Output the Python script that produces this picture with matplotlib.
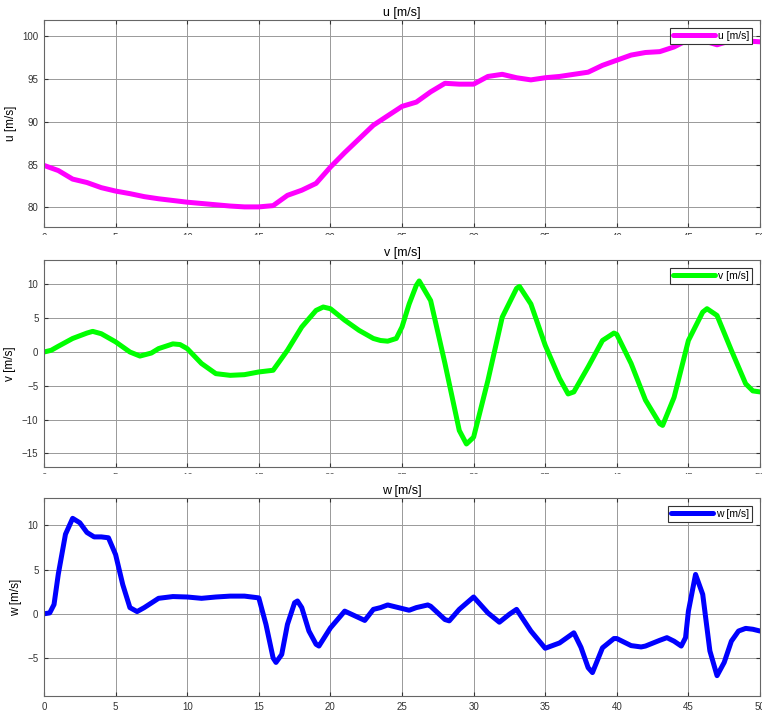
# -*- coding: utf-8 -*-

import matplotlib
matplotlib.use('Agg')
import matplotlib.pyplot as plt
from matplotlib.patches import Rectangle

plt.rcParams['font.family'] = ['Liberation Sans', 'DejaVu Sans']

# ---- u [m/s] ----
t_u = [0, 1, 2, 3, 4, 5, 6, 7, 8, 9, 10, 11, 12, 13, 14, 15, 16, 17, 18, 19,
       20, 21, 22, 23, 24, 25, 26, 27, 28, 29, 30, 31, 32, 33, 34, 35, 36, 37,
       38, 39, 40, 41, 42, 43, 44, 45, 45.5, 46, 47, 48, 49, 50]
u = [84.9, 84.3, 83.3, 82.9, 82.3, 81.9, 81.6, 81.25, 81.0, 80.8, 80.6, 80.45,
     80.3, 80.15, 80.05, 80.05, 80.2, 81.4, 82.0, 82.8, 84.7, 86.4, 88.0, 89.6,
     90.7, 91.8, 92.3, 93.5, 94.5, 94.4, 94.4, 95.3, 95.55, 95.15, 94.9, 95.15,
     95.3, 95.55, 95.8, 96.6, 97.2, 97.8, 98.1, 98.2, 98.75, 99.6, 99.8, 99.5,
     99.0, 99.5, 99.45, 99.35]

# ---- v [m/s] ----
t_v = [0, 0.5, 1, 2, 3, 3.4, 4, 5, 6, 6.7, 7.5, 8, 9, 9.5, 10, 11, 12, 13, 14,
       15, 16, 17, 18, 19, 19.5, 20, 21, 22, 23, 23.5, 24, 24.6, 25, 25.5, 26,
       26.2, 27, 28, 29, 29.5, 30, 31, 32, 33, 33.2, 34, 35, 36, 36.6, 37, 38,
       39, 39.8, 40, 41, 42, 43, 43.2, 44, 45, 46, 46.3, 47, 48, 49, 49.5, 50]
v = [0, 0.25, 0.85, 2.0, 2.8, 3.05, 2.7, 1.5, 0, -0.6, -0.15, 0.5, 1.2, 1.1,
     0.5, -1.7, -3.2, -3.45, -3.35, -2.95, -2.7, 0.25, 3.7, 6.15, 6.65, 6.4,
     4.7, 3.2, 2.0, 1.7, 1.6, 2.0, 3.7, 7.1, 9.85, 10.5, 7.6, -1.7, -11.6,
     -13.6, -12.6, -4.2, 5.15, 9.4, 9.7, 7.1, 1.0, -3.9, -6.2, -5.9, -2.2, 1.7,
     2.8, 2.6, -1.7, -7.1, -10.6, -10.85, -6.7, 1.7, 5.9, 6.4, 5.4, 0.25, -4.7,
     -5.75, -5.9]

# ---- w [m/s] ----
t_w = [0, 0.4, 0.7, 1, 1.5, 2, 2.5, 3, 3.5, 4, 4.5, 5, 5.5, 6, 6.5, 7, 8, 9,
       10, 11, 12, 13, 14, 15, 15.5, 16, 16.2, 16.6, 17, 17.5, 17.7, 18, 18.5,
       19, 19.2, 20, 21, 22, 22.4, 23, 23.5, 24, 25, 25.5, 26, 26.8, 27, 28,
       28.3, 29, 30, 31, 31.8, 32.5, 33, 34, 35, 36, 37, 37.5, 38, 38.3, 39,
       39.8, 40, 41, 41.7, 42, 43, 43.5, 44, 44.5, 44.8, 45, 45.5, 46, 46.5, 47,
       47.5, 48, 48.5, 49, 49.5, 50]
w = [0, 0.1, 1.05, 4.5, 9.0, 10.8, 10.3, 9.2, 8.7, 8.7, 8.6, 6.7, 3.3, 0.7,
     0.25, 0.7, 1.75, 1.95, 1.9, 1.75, 1.9, 2.0, 2.0, 1.8, -1.2, -5.0, -5.5,
     -4.6, -1.2, 1.25, 1.45, 0.7, -1.95, -3.45, -3.65, -1.6, 0.3, -0.45, -0.75,
     0.5, 0.7, 1.0, 0.6, 0.4, 0.7, 1.0, 0.85, -0.65, -0.8, 0.5, 1.9, 0.1,
     -0.95, -0.05, 0.5, -1.95, -3.9, -3.3, -2.15, -3.8, -6.1, -6.65, -3.85,
     -2.8, -2.8, -3.6, -3.75, -3.65, -3.0, -2.7, -3.1, -3.65, -2.7, 0.3, 4.45,
     2.2, -4.2, -7.0, -5.5, -3.1, -1.95, -1.65, -1.75, -1.95]

W, H = 762, 718
fig = plt.figure(figsize=(W / 100, H / 100), dpi=100, facecolor='white')


def px_rect(left, top, right, bottom):
    return [left / W, (H - bottom) / H, (right - left) / W, (bottom - top) / H]


panels = [
    (px_rect(44, 20, 760, 227), t_u, u, '#ff00ff', 'u [m/s]', (77.7, 101.9), [80, 85, 90, 95, 100]),
    (px_rect(44, 260, 760, 467), t_v, v, '#00ff00', 'v [m/s]', (-17.0, 13.6), [-15, -10, -5, 0, 5, 10]),
    (px_rect(44, 498, 760, 696), t_w, w, '#0000ff', 'w [m/s]', (-9.3, 13.1), [-5, 0, 5, 10]),
]

for rect, tx, ty, col, name, ylim, yt in panels:
    ax = fig.add_axes(rect)
    ax.plot(tx, ty, color=col, lw=3.6, solid_joinstyle='round',
            solid_capstyle='round', label=name)
    ax.set_xlim(0, 50)
    ax.set_ylim(*ylim)
    ax.set_xticks(range(0, 51, 5))
    ax.set_yticks(yt)
    ax.grid(True, color='0.6', lw=0.7)
    ax.set_axisbelow(True)
    ax.tick_params(direction='in', length=3, labelsize=7, colors='#333333',
                   top=True, right=True, pad=4)
    for s in ax.spines.values():
        s.set_color('#666666')
        s.set_linewidth(0.8)
    ax.set_title(name, fontsize=9, pad=3)
    ax.set_ylabel(name, fontsize=8.5, labelpad=4)
    leg = ax.legend(loc='upper right', fontsize=7.5, handlelength=4.0,
                    fancybox=False, borderpad=0.3, handletextpad=0.3,
                    borderaxespad=0.75, framealpha=1)
    leg.get_frame().set_edgecolor('#333333')
    leg.get_frame().set_linewidth(0.8)

# lower part of the top two rows of x tick labels is cut off in the picture
for top, bottom in [(235, 243), (474, 481)]:
    fig.add_artist(Rectangle((0, (H - bottom) / H), 1, (bottom - top) / H,
                             transform=fig.transFigure, color='white', zorder=10))

fig.savefig('out.png', dpi=100, facecolor=fig.get_facecolor())
